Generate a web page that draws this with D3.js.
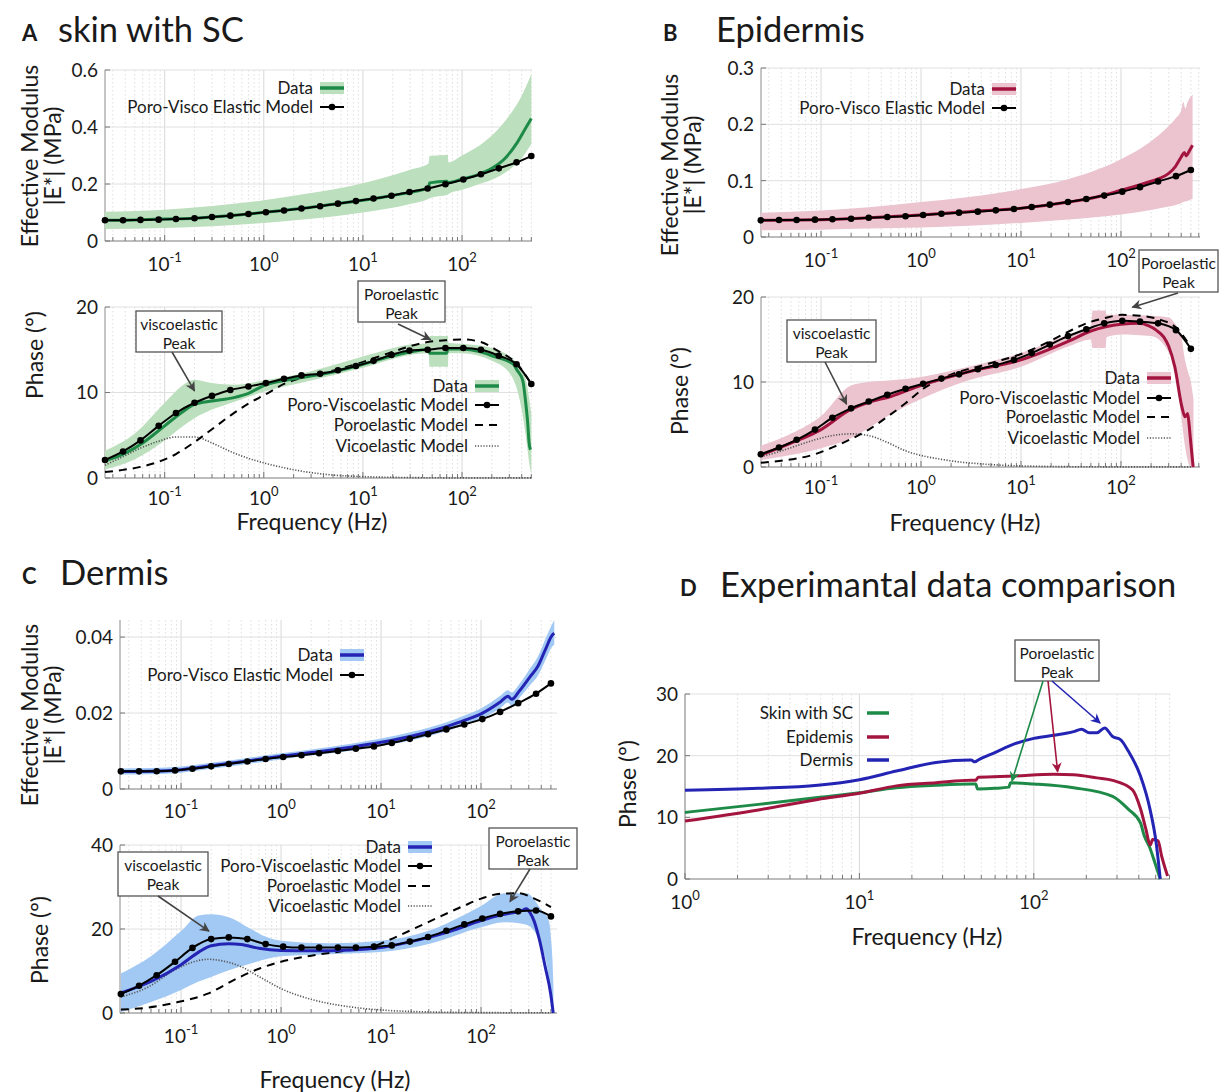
<!DOCTYPE html>
<html>
<head>
<meta charset="utf-8">
<script src="https://cdn.jsdelivr.net/npm/d3@7"></script>
<style>
body { margin: 0; background: #fff; }
text { font-family: Lato, "Open Sans", sans-serif; fill: #1a1a1a; }
</style>
</head>
<body>
<svg id="fig" width="1219" height="1092"></svg>
<script>
// frequencies of the model points (same for panels A, B, C)
const modelFreq = [0.025, 0.038, 0.057, 0.087, 0.13, 0.2, 0.3, 0.46, 0.7, 1.05, 1.6, 2.4, 3.7, 5.6, 8.5, 12.8, 19.4, 29.5, 45, 68, 103, 155, 235, 355, 500];

// ---- A: skin with SC ----
const aModModel = [0.073, 0.073, 0.074, 0.075, 0.077, 0.080, 0.084, 0.089, 0.095, 0.101, 0.107, 0.114, 0.122, 0.131, 0.140, 0.149, 0.159, 0.172, 0.184, 0.199, 0.216, 0.234, 0.255, 0.276, 0.298];
const aModFreq = [0.025, 0.05, 0.1, 0.2, 0.5, 1, 2, 5, 10, 20, 40, 46, 47, 70, 72, 100, 150, 200, 280, 360, 445, 500];
const aModMean = [0.073, 0.074, 0.077, 0.08, 0.09, 0.1, 0.111, 0.129, 0.143, 0.16, 0.18, 0.186, 0.204, 0.21, 0.205, 0.217, 0.235, 0.255, 0.295, 0.345, 0.4, 0.43];
const aModBandFreq = [0.025, 0.1, 0.3, 1, 3, 10, 30, 46, 47, 72, 73, 100, 150, 200, 300, 400, 500];
const aModUpper = [0.103, 0.11, 0.123, 0.143, 0.168, 0.203, 0.25, 0.272, 0.298, 0.302, 0.276, 0.3, 0.335, 0.37, 0.44, 0.51, 0.585];
const aModLower = [0.042, 0.046, 0.052, 0.063, 0.078, 0.1, 0.13, 0.148, 0.15, 0.163, 0.165, 0.18, 0.2, 0.215, 0.25, 0.29, 0.34];

const aPhModel = [2.1, 3.1, 4.4, 6.1, 7.6, 8.8, 9.6, 10.3, 10.7, 11.1, 11.6, 12.0, 12.2, 12.6, 13.1, 13.7, 14.4, 14.9, 15.0, 15.2, 15.2, 15.0, 14.3, 13.3, 11.0];
const aPhFreq = [0.025, 0.04, 0.06, 0.1, 0.15, 0.2, 0.3, 0.5, 0.7, 1, 2, 5, 10, 20, 40, 46, 47, 70, 72, 100, 150, 200, 300, 330, 360, 410, 440, 460, 475, 490];
const aPhMean = [2.0, 2.9, 4.1, 6.1, 7.7, 8.6, 9.0, 9.4, 9.9, 10.8, 11.6, 12.4, 13.3, 14.3, 15.0, 15.1, 14.6, 14.6, 15.1, 15.1, 14.8, 14.3, 13.6, 13.3, 12.6, 11.4, 8.7, 6.4, 4.1, 3.3];
const aPhBandFreq = [0.025, 0.05, 0.1, 0.15, 0.2, 0.3, 0.5, 1, 3, 10, 30, 46, 47, 72, 73, 100, 200, 300, 400, 450, 480, 500];
const aPhUpper = [3.2, 5.2, 8.8, 10.8, 11.5, 11.1, 10.9, 11.4, 12.5, 14.2, 15.6, 15.8, 16.6, 16.6, 15.8, 15.7, 15.2, 14.2, 12.6, 11.0, 9.0, 7.5];
const aPhLower = [1.0, 2.2, 4.4, 6.0, 7.0, 8.0, 8.9, 10.1, 11.4, 12.9, 14.4, 14.6, 13.0, 13.0, 14.6, 14.6, 13.7, 12.3, 8.0, 4.0, 1.5, 0.5];
const aPoro = [0.7, 0.95, 1.3, 1.9, 2.8, 4.2, 5.7, 7.3, 8.7, 9.8, 11.0, 11.7, 12.2, 12.7, 13.3, 14.0, 14.7, 15.4, 15.9, 16.1, 16.2, 15.9, 14.8, 13.4, 11.0];
const aVisco = [1.5, 2.5, 3.5, 4.3, 4.8, 4.8, 4.1, 3.1, 2.3, 1.7, 1.2, 0.8, 0.5, 0.3, 0.2, 0.12, 0.08, 0.05, 0.03, 0.02, 0.02, 0.01, 0.01, 0.01, 0.01];

// ---- B: Epidermis ----
const bModModel = [0.0296, 0.0302, 0.0303, 0.0308, 0.0314, 0.0325, 0.0341, 0.0355, 0.0368, 0.039, 0.0412, 0.0432, 0.045, 0.0473, 0.0497, 0.0533, 0.0574, 0.0621, 0.0675, 0.0735, 0.0805, 0.0885, 0.0985, 0.108, 0.119];
const bModFreq = [0.025, 0.1, 0.3, 1, 3, 10, 30, 60, 100, 150, 200, 250, 300, 350, 400, 430, 450, 480, 520];
const bModMean = [0.0296, 0.0306, 0.034, 0.039, 0.045, 0.051, 0.062, 0.072, 0.083, 0.092, 0.099, 0.105, 0.113, 0.125, 0.142, 0.15, 0.144, 0.152, 0.163];
const bModBandFreq = [0.025, 0.1, 0.3, 1, 3, 10, 30, 100, 200, 300, 350, 400, 420, 440, 460, 520];
const bModUpper = [0.043, 0.047, 0.053, 0.062, 0.071, 0.085, 0.103, 0.138, 0.17, 0.197, 0.21, 0.225, 0.24, 0.228, 0.238, 0.253];
const bModLower = [0.012, 0.013, 0.015, 0.017, 0.02, 0.025, 0.031, 0.04, 0.048, 0.054, 0.057, 0.06, 0.062, 0.063, 0.064, 0.068];

const bPhModel = [1.5, 2.3, 3.2, 4.4, 5.8, 6.9, 7.7, 8.5, 9.2, 9.8, 10.4, 10.9, 11.5, 12.0, 12.6, 13.4, 14.4, 15.4, 16.2, 16.9, 17.2, 17.1, 16.9, 16.1, 13.9];
const bPhFreq = [0.025, 0.05, 0.1, 0.2, 0.3, 0.5, 1, 3, 10, 30, 50, 100, 150, 190, 225, 267, 300, 345, 408, 437, 464, 480, 493, 527];
const bPhMean = [1.4, 2.8, 4.4, 6.8, 7.6, 8.3, 9.6, 11.2, 12.6, 14.8, 16.0, 16.8, 16.9, 16.6, 16.1, 15.3, 14.2, 11.8, 7.0, 5.9, 6.3, 5.0, 3.5, 0];
const bPhBandFreq = [0.025, 0.05, 0.1, 0.2, 0.3, 0.5, 1, 3, 10, 30, 50, 52, 70, 72, 100, 200, 300, 350, 400, 430, 460, 500, 530];
const bPhUpper = [2.5, 3.9, 6.0, 9.6, 10.0, 10.2, 10.6, 11.8, 13.4, 15.6, 16.5, 18.4, 18.4, 17.9, 17.9, 17.8, 17.6, 16.8, 15.5, 13.0, 11.5, 10.0, 8.0];
const bPhLower = [0.8, 1.4, 2.2, 3.4, 4.6, 6.2, 8.0, 10.2, 11.8, 14.2, 15.0, 14.0, 14.0, 15.3, 15.6, 15.4, 13.5, 11.5, 6.0, 3.0, 1.0, 0, 0];
const bPoro = [0.5, 0.7, 1.0, 1.5, 2.3, 3.3, 4.4, 5.9, 7.5, 9.2, 10.4, 11.2, 11.8, 12.4, 13.0, 13.8, 14.8, 15.9, 16.9, 17.5, 17.9, 17.8, 17.4, 16.4, 14.1];
const bVisco = [1.2, 1.8, 2.5, 3.2, 3.7, 3.9, 3.7, 2.9, 1.9, 1.3, 0.9, 0.6, 0.4, 0.25, 0.15, 0.1, 0.06, 0.04, 0.03, 0.02, 0.02, 0.01, 0.01, 0.01, 0.01];

// ---- C: Dermis ----
const cModModel = [0.00465, 0.00465, 0.00468, 0.0049, 0.00535, 0.00596, 0.00658, 0.00725, 0.0079, 0.00842, 0.00888, 0.0094, 0.01, 0.0106, 0.0112, 0.0121, 0.0132, 0.0144, 0.0157, 0.017, 0.0184, 0.0203, 0.0226, 0.0251, 0.0278];
const cModFreq = [0.025, 0.05, 0.1, 0.2, 0.5, 1, 2, 5, 10, 20, 50, 70, 100, 157, 186, 203, 240, 310, 370, 440, 518, 540];
const cModMean = [0.0046, 0.0047, 0.0051, 0.0061, 0.0075, 0.0086, 0.0096, 0.011, 0.0123, 0.0139, 0.0168, 0.0182, 0.0198, 0.023, 0.0244, 0.0236, 0.0257, 0.0296, 0.0323, 0.0367, 0.0406, 0.041];
const cModUpper = [0.0054, 0.0055, 0.0059, 0.0069, 0.0083, 0.0094, 0.0104, 0.0119, 0.0133, 0.015, 0.018, 0.0195, 0.0212, 0.0246, 0.026, 0.0254, 0.0275, 0.0318, 0.0348, 0.0395, 0.0436, 0.0445];
const cModLower = [0.0038, 0.0039, 0.0043, 0.0053, 0.0067, 0.0078, 0.0088, 0.0101, 0.0113, 0.0128, 0.0156, 0.0169, 0.0184, 0.0214, 0.0228, 0.0218, 0.0239, 0.0274, 0.0298, 0.0339, 0.0376, 0.038];

const cPhModel = [4.5, 6.5, 9.0, 12.2, 15.5, 17.6, 18.0, 17.6, 16.4, 15.8, 15.6, 15.6, 15.6, 15.6, 15.8, 16.1, 17.0, 18.1, 19.6, 21.1, 22.5, 23.6, 24.2, 24.4, 23.0];
const cPhFreq = [0.025, 0.05, 0.1, 0.15, 0.2, 0.3, 0.4, 0.6, 1, 2, 5, 10, 20, 50, 100, 150, 200, 250, 285, 310, 338, 384, 438, 497, 527];
const cPhMean = [4.8, 7.5, 11.5, 14.5, 16.0, 16.5, 16.3, 15.4, 14.9, 14.8, 15.0, 15.6, 17.0, 19.5, 22.0, 23.2, 23.8, 24.3, 24.8, 23.8, 22.0, 17.4, 11.0, 4.6, 0];
const cPhBandFreq = [0.025, 0.05, 0.1, 0.15, 0.2, 0.3, 0.5, 0.7, 1, 3, 10, 30, 100, 170, 285, 400, 476, 500, 518, 530];
const cPhUpper = [9.4, 13.5, 19.5, 23.2, 23.5, 22.8, 20.0, 18.2, 17.2, 16.6, 17.2, 19.6, 25.5, 28.5, 28.5, 24.6, 22.0, 18.0, 12.6, 6.0];
const cPhLower = [0.2, 2.6, 5.5, 7.5, 8.6, 10.2, 11.8, 12.8, 13.5, 14.0, 14.5, 16.4, 20.4, 21.6, 21.0, 16.0, 8.0, 2.5, 0.5, 0];
const cPoroFreq = [0.025, 0.047, 0.085, 0.185, 0.36, 0.61, 1.0, 2.2, 5.1, 7.8, 11.8, 27, 67, 102, 157, 240, 338, 500];
const cPoro = [0.8, 1.3, 2.4, 4.6, 8.2, 10.6, 12.2, 13.8, 15.0, 15.6, 17.3, 21.2, 25.5, 27.3, 28.4, 28.5, 27.3, 25.2];
const cViscoFreq = [0.025, 0.047, 0.086, 0.156, 0.185, 0.26, 0.4, 0.61, 1.0, 2.2, 5.1, 12, 30, 100, 500];
const cVisco = [3.8, 6.2, 10.2, 12.6, 12.8, 12.4, 11.0, 8.6, 5.8, 3.0, 1.4, 0.6, 0.25, 0.1, 0.05];

// ---- D: comparison ----
const dSkinFreq = [1, 2.64, 5.77, 10, 16.3, 27.5, 43.6, 46.5, 47.5, 60, 72, 73.5, 100, 169, 283, 349, 409, 430, 464, 490, 531];
const dSkinPhase = [10.8, 12.1, 13.2, 14.0, 14.8, 15.2, 15.4, 15.4, 14.6, 14.7, 14.9, 15.6, 15.4, 14.8, 13.4, 11.3, 9.1, 7.0, 5.0, 3.0, 0];
const dEpiFreq = [1, 2.64, 5.77, 10, 16.3, 27.5, 43.6, 46.5, 48, 77, 130, 169, 230, 283, 367, 410, 440, 465, 480, 516, 540, 585];
const dEpiPhase = [9.4, 11.2, 12.9, 13.9, 15.1, 15.6, 16.0, 16.0, 16.5, 16.7, 17.0, 16.9, 16.4, 16.0, 14.5, 11.3, 8.0, 5.5, 6.4, 6.2, 3.8, 0.5];
const dDermFreq = [1, 2.64, 5.77, 10, 16.3, 27.5, 43.6, 46, 48, 59.8, 77.4, 100, 130, 169, 188, 208, 230, 255, 283, 314, 349, 409, 464, 503, 531];
const dDermPhase = [14.4, 14.7, 15.2, 16.1, 17.5, 18.9, 19.3, 19.0, 19.3, 20.5, 21.9, 22.8, 23.3, 23.9, 24.3, 23.7, 23.7, 24.5, 23.1, 22.6, 20.7, 16.7, 11.3, 5.9, 0];

const green = { line: '#1e8a48', band: '#bcdfbd' };
const red = { line: '#a3153f', band: '#ebc4d0' };
const blue = { line: '#2424b4', band: '#a2c8f4' };

const svg = d3.select('#fig');

const pts = (f, v) => f.map((d, i) => ({ f: d, v: v[i] }));
const band = (f, lo, hi) => f.map((d, i) => ({ f: d, lo: lo[i], hi: hi[i] }));

// arrow heads
const defs = svg.append('defs');
[['gray', '#444'], ['green', green.line], ['red', red.line], ['blue', blue.line]].forEach(([n, c]) => {
  defs.append('marker').attr('id', 'arr-' + n)
    .attr('viewBox', '0 0 10 10').attr('refX', 9).attr('refY', 5)
    .attr('markerWidth', 12).attr('markerHeight', 10).attr('markerUnits', 'userSpaceOnUse')
    .attr('orient', 'auto')
    .append('path').attr('d', 'M0,0 L10,5 L0,10 L3,5 z').attr('fill', c);
});

function frame(o) {
  const x = d3.scaleLog().domain(o.xd).range([o.l, o.r]);
  const y = d3.scaleLinear().domain(o.yd).range([o.b, o.t]);
  const g = svg.append('g');
  const xt = x.ticks().filter(v => v >= o.xd[0] && v <= o.xd[1]);
  const major = v => Math.abs(Math.log10(v) - Math.round(Math.log10(v))) < 1e-6;

  g.selectAll('.vg').data(xt).join('line')
    .attr('x1', d => x(d)).attr('x2', d => x(d)).attr('y1', o.t).attr('y2', o.b)
    .attr('stroke', d => major(d) ? '#d8d8d8' : '#dedede')
    .attr('stroke-dasharray', d => major(d) ? null : '1.5,2.5');
  g.selectAll('.hg').data(o.yt).join('line')
    .attr('x1', o.l).attr('x2', o.r).attr('y1', d => y(d)).attr('y2', d => y(d))
    .attr('stroke', '#e0e0e0');

  g.append('line').attr('x1', o.l).attr('x2', o.l).attr('y1', o.t).attr('y2', o.b).attr('stroke', '#8a8a8a');
  g.append('line').attr('x1', o.l).attr('x2', o.r).attr('y1', o.b).attr('y2', o.b).attr('stroke', '#8a8a8a');
  g.selectAll('.xt').data(xt).join('line')
    .attr('x1', d => x(d)).attr('x2', d => x(d)).attr('y1', o.b).attr('y2', d => o.b - (major(d) ? 6 : 4))
    .attr('stroke', '#777');
  g.selectAll('.yt').data(o.yt).join('line')
    .attr('x1', o.l).attr('x2', o.l + 5).attr('y1', d => y(d)).attr('y2', d => y(d))
    .attr('stroke', '#777');

  g.selectAll('.yl').data(o.yt).join('text')
    .attr('x', o.l - 7).attr('y', d => y(d)).attr('dy', '0.36em')
    .attr('text-anchor', 'end').attr('font-size', 19)
    .text((d, i) => o.yf[i]);

  o.xe.forEach(e => {
    const t = g.append('text').attr('x', x(10 ** e)).attr('y', o.b + o.xo)
      .attr('text-anchor', 'middle').attr('font-size', 19);
    t.append('tspan').text('10');
    t.append('tspan').attr('dy', -9).attr('font-size', 13).text(e);
  });
  return { x, y };
}

function drawBand(s, d, c) {
  svg.append('path').datum(d)
    .attr('d', d3.area().x(p => s.x(p.f)).y0(p => s.y(p.lo)).y1(p => s.y(p.hi)).curve(d3.curveMonotoneX))
    .attr('fill', c);
}

function drawLine(s, d, c, w, dash) {
  svg.append('path').datum(d)
    .attr('d', d3.line().x(p => s.x(p.f)).y(p => s.y(p.v)).curve(d3.curveMonotoneX))
    .attr('fill', 'none').attr('stroke', c).attr('stroke-width', w)
    .attr('stroke-dasharray', dash || null);
}

function drawModel(s, d) {
  drawLine(s, d, '#000', 2);
  svg.append('g').selectAll('circle').data(d).join('circle')
    .attr('cx', p => s.x(p.f)).attr('cy', p => s.y(p.v)).attr('r', 3.3).attr('fill', '#000');
}

function legend(items, xr, ys) {
  items.forEach((it, i) => {
    const y = ys[i];
    svg.append('text').attr('x', xr).attr('y', y).attr('dy', '0.35em')
      .attr('text-anchor', 'end').attr('font-size', 17).text(it.label);
    const x0 = xr + 7, x1 = xr + 31;
    if (it.type === 'data') {
      svg.append('rect').attr('x', x0).attr('y', y - 6).attr('width', x1 - x0).attr('height', 12).attr('fill', it.c.band);
      svg.append('line').attr('x1', x0).attr('x2', x1).attr('y1', y).attr('y2', y).attr('stroke', it.c.line).attr('stroke-width', 3.5);
    } else if (it.type === 'model') {
      svg.append('line').attr('x1', x0).attr('x2', x1).attr('y1', y).attr('y2', y).attr('stroke', '#000').attr('stroke-width', 2);
      svg.append('circle').attr('cx', (x0 + x1) / 2).attr('cy', y).attr('r', 3.3).attr('fill', '#000');
    } else if (it.type === 'dash') {
      svg.append('line').attr('x1', x0).attr('x2', x1).attr('y1', y).attr('y2', y).attr('stroke', '#000').attr('stroke-width', 2).attr('stroke-dasharray', '8,6');
    } else if (it.type === 'dot') {
      svg.append('line').attr('x1', x0).attr('x2', x1).attr('y1', y).attr('y2', y).attr('stroke', '#555').attr('stroke-width', 1.6).attr('stroke-dasharray', '1.2,1.6');
    } else {
      svg.append('line').attr('x1', x0 + 7).attr('x2', x1 + 5).attr('y1', y).attr('y2', y).attr('stroke', it.c.line).attr('stroke-width', 3.5);
    }
  });
}

function note(bx, by, bw, bh, lines) {
  svg.append('rect').attr('x', bx).attr('y', by).attr('width', bw).attr('height', bh)
    .attr('fill', '#fff').attr('stroke', '#555').attr('stroke-width', 1.3);
  lines.forEach((t, i) => {
    svg.append('text').attr('x', bx + bw / 2).attr('y', by + 14 + i * 19).attr('dy', '0.35em')
      .attr('text-anchor', 'middle').attr('font-size', 15.5).text(t);
  });
}

function arrow(x1, y1, x2, y2, c, n) {
  svg.append('line').attr('x1', x1).attr('y1', y1).attr('x2', x2).attr('y2', y2)
    .attr('stroke', c).attr('stroke-width', 1.6).attr('marker-end', 'url(#arr-' + n + ')');
}

function title(x, y, letter, name, gap) {
  svg.append('text').attr('x', x).attr('y', y).attr('font-size', 22).attr('font-weight', 700).text(letter);
  svg.append('text').attr('x', x + gap).attr('y', y + 1).attr('font-size', 34.5).text(name);
}

function ylab(x, y, lines) {
  lines.forEach((t, i) => {
    svg.append('text').attr('transform', `translate(${x + i * 23},${y}) rotate(-90)`)
      .attr('text-anchor', 'middle').attr('dy', '0.35em').attr('font-size', 23).text(t);
  });
}

function xlab(x, y) {
  svg.append('text').attr('x', x).attr('y', y).attr('text-anchor', 'middle').attr('font-size', 23).text('Frequency (Hz)');
}

const modelLegend = [
  { label: 'Data', type: 'data' },
  { label: 'Poro-Visco Elastic Model', type: 'model' }
];
const phaseLegend = [
  { label: 'Data', type: 'data' },
  { label: 'Poro-Viscoelastic Model', type: 'model' },
  { label: 'Poroelastic Model', type: 'dash' },
  { label: 'Vicoelastic Model', type: 'dot' }
];
const withColor = (items, c) => items.map(d => Object.assign({}, d, { c }));

// ===== Panel A =====
title(22, 41, 'A', 'skin with SC', 36);
let s = frame({ l: 105, r: 532, t: 70, b: 241, xd: [0.025, 508], yd: [0, 0.6], yt: [0, 0.2, 0.4, 0.6], yf: ['0', '0.2', '0.4', '0.6'], xe: [-1, 0, 1, 2], xo: 30 });
drawBand(s, band(aModBandFreq, aModLower, aModUpper), green.band);
drawLine(s, pts(aModFreq, aModMean), green.line, 3);
drawModel(s, pts(modelFreq, aModModel));
legend(withColor(modelLegend, green), 313, [88, 107]);
ylab(30, 156, ['Effective Modulus', '|E*| (MPa)']);

s = frame({ l: 105, r: 532, t: 307, b: 478, xd: [0.025, 508], yd: [0, 20], yt: [0, 10, 20], yf: ['0', '10', '20'], xe: [-1, 0, 1, 2], xo: 27 });
drawBand(s, band(aPhBandFreq, aPhLower, aPhUpper), green.band);
drawLine(s, pts(modelFreq, aVisco), '#555', 1.6, '1.2,1.6');
drawLine(s, pts(modelFreq, aPoro), '#000', 2, '8,6');
drawLine(s, pts(aPhFreq, aPhMean), green.line, 3);
drawModel(s, pts(modelFreq, aPhModel));
legend(withColor(phaseLegend, green), 468, [386, 405, 425, 446]);
ylab(35, 355, ['Phase (°)']);
xlab(312, 530);
note(136, 311, 86, 41, ['viscoelastic', 'Peak']);
arrow(172, 352, s.x(0.2), s.y(10.2), '#444', 'gray');
note(358, 281, 87, 41, ['Poroelastic', 'Peak']);
arrow(398, 324, s.x(48), s.y(16.2), '#444', 'gray');

// ===== Panel B =====
title(663, 41, 'B', 'Epidermis', 53);
s = frame({ l: 761, r: 1200, t: 68, b: 237, xd: [0.0251, 617], yd: [0, 0.3], yt: [0, 0.1, 0.2, 0.3], yf: ['0', '0.1', '0.2', '0.3'], xe: [-1, 0, 1, 2], xo: 30 });
drawBand(s, band(bModBandFreq, bModLower, bModUpper), red.band);
drawLine(s, pts(bModFreq, bModMean), red.line, 3);
drawModel(s, pts(modelFreq, bModModel));
legend(withColor(modelLegend, red), 985, [89, 108]);
ylab(670, 165, ['Effective Modulus', '|E*| (MPa)']);

s = frame({ l: 761, r: 1200, t: 297, b: 467, xd: [0.0251, 617], yd: [0, 20], yt: [0, 10, 20], yf: ['0', '10', '20'], xe: [-1, 0, 1, 2], xo: 27 });
drawBand(s, band(bPhBandFreq, bPhLower, bPhUpper), red.band);
drawLine(s, pts(modelFreq, bVisco), '#555', 1.6, '1.2,1.6');
drawLine(s, pts(modelFreq, bPoro), '#000', 2, '8,6');
drawLine(s, pts(bPhFreq, bPhMean), red.line, 3);
drawModel(s, pts(modelFreq, bPhModel));
legend(withColor(phaseLegend, red), 1140, [378, 398, 417, 438]);
ylab(680, 391, ['Phase (°)']);
xlab(965, 531);
note(787, 320, 89, 42, ['viscoelastic', 'Peak']);
arrow(825, 362, s.x(0.18), s.y(7.4), '#444', 'gray');
note(1139, 250, 79, 42, ['Poroelastic', 'Peak']);
arrow(1178, 293, s.x(130), s.y(18.8), '#444', 'gray');

// ===== Panel C =====
title(22, 584, 'C', 'Dermis', 38);
s = frame({ l: 120, r: 557, t: 620, b: 789, xd: [0.0245, 575], yd: [0, 0.0445], yt: [0, 0.02, 0.04], yf: ['0', '0.02', '0.04'], xe: [-1, 0, 1, 2], xo: 29 });
drawBand(s, band(cModFreq, cModLower, cModUpper), blue.band);
drawLine(s, pts(cModFreq, cModMean), blue.line, 3);
drawModel(s, pts(modelFreq, cModModel));
legend(withColor(modelLegend, blue), 333, [655, 675]);
ylab(30, 715, ['Effective Modulus', '|E*| (MPa)']);

s = frame({ l: 120, r: 557, t: 845, b: 1013, xd: [0.0245, 575], yd: [0, 40], yt: [0, 20, 40], yf: ['0', '20', '40'], xe: [-1, 0, 1, 2], xo: 30 });
drawBand(s, band(cPhBandFreq, cPhLower, cPhUpper), blue.band);
drawLine(s, pts(cViscoFreq, cVisco), '#555', 1.6, '1.2,1.6');
drawLine(s, pts(cPoroFreq, cPoro), '#000', 2, '8,6');
drawLine(s, pts(cPhFreq, cPhMean), blue.line, 3);
drawModel(s, pts(modelFreq, cPhModel));
legend(withColor(phaseLegend, blue), 401, [847, 866, 886, 906]);
ylab(40, 940, ['Phase (°)']);
xlab(335, 1088);
note(118, 852, 90, 44, ['viscoelastic', 'Peak']);
arrow(158, 896, s.x(0.19), s.y(19.5), '#444', 'gray');
note(489, 828, 88, 41, ['Poroelastic', 'Peak']);
arrow(530, 869, s.x(195), s.y(26.5), '#444', 'gray');

// ===== Panel D =====
title(680, 596, 'D', 'Experimantal data comparison', 40);
s = frame({ l: 685, r: 1170, t: 694, b: 879, xd: [1, 604], yd: [0, 30], yt: [0, 10, 20, 30], yf: ['0', '10', '20', '30'], xe: [0, 1, 2], xo: 30 });
drawLine(s, pts(dSkinFreq, dSkinPhase), green.line, 3);
drawLine(s, pts(dEpiFreq, dEpiPhase), red.line, 3);
drawLine(s, pts(dDermFreq, dDermPhase), blue.line, 3);
legend([
  { label: 'Skin with SC', type: 'line', c: green },
  { label: 'Epidemis', type: 'line', c: red },
  { label: 'Dermis', type: 'line', c: blue }
], 853, [713, 737, 760]);
ylab(628, 784, ['Phase (°)']);
xlab(927, 945);
note(1015, 640, 84, 41, ['Poroelastic', 'Peak']);
arrow(1043, 681, s.x(75), s.y(15.9), green.line, 'green');
arrow(1048, 681, s.x(137), s.y(17.4), red.line, 'red');
arrow(1052, 681, s.x(240), s.y(25.3), blue.line, 'blue');
</script>
</body>
</html>
